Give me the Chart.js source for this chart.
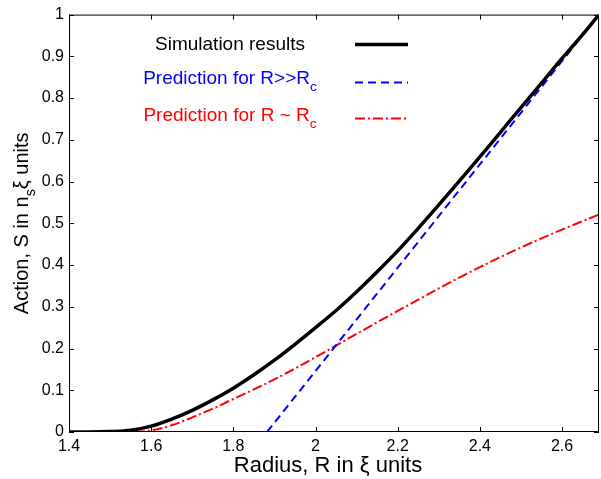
<!DOCTYPE html>
<html>
<head>
<meta charset="utf-8">
<script src="https://cdn.jsdelivr.net/npm/chart.js@4.4.1/dist/chart.umd.min.js"></script>
<style>
  html, body { margin: 0; padding: 0; background: #fff; }
  #chart { display: block; }
</style>
</head>
<body>
<canvas id="chart" width="601" height="479"></canvas>
<script>
// simulation results
const simRadius = [1.40, 1.45, 1.50, 1.55, 1.60, 1.65, 1.70, 1.75, 1.80, 1.85, 1.90, 1.95, 2.00,
                   2.05, 2.10, 2.15, 2.20, 2.25, 2.30, 2.35, 2.40, 2.45, 2.50, 2.55, 2.60, 2.65, 2.69];
const simAction = [0, 0, 0.001, 0.004, 0.014, 0.031, 0.052, 0.077, 0.105, 0.137, 0.172, 0.210, 0.250,
                   0.291, 0.336, 0.384, 0.434, 0.488, 0.544, 0.601, 0.659, 0.718, 0.777, 0.836, 0.895, 0.952, 1.000];

// prediction for R ~ Rc
const nearRadius = [1.56, 1.60, 1.65, 1.70, 1.75, 1.80, 1.85, 1.90, 1.95, 2.00, 2.05, 2.10, 2.15,
                    2.20, 2.25, 2.30, 2.35, 2.40, 2.45, 2.50, 2.55, 2.60, 2.65, 2.69];
const nearAction = [0, 0.004, 0.016, 0.035, 0.056, 0.079, 0.102, 0.126, 0.152, 0.179, 0.207, 0.235, 0.263,
                    0.290, 0.317, 0.344, 0.370, 0.395, 0.419, 0.442, 0.464, 0.485, 0.505, 0.521];

// prediction for R >> Rc (straight line)
const largeRadius = [1.882, 2.69];
const largeAction = [0, 1.0];

const xTicks = [1.4, 1.6, 1.8, 2.0, 2.2, 2.4, 2.6];
const yTicks = [0, 0.1, 0.2, 0.3, 0.4, 0.5, 0.6, 0.7, 0.8, 0.9, 1];

const FONT = "'Liberation Sans', Arial, Helvetica, sans-serif";

function points(xs, ys) {
    return xs.map((x, i) => ({ x: x, y: ys[i] }));
}

// draws text pieces, some of them as subscripts, starting at x
function drawRich(ctx, parts, x, y, size, color) {
    ctx.fillStyle = color;
    ctx.textBaseline = "middle";
    ctx.textAlign = "left";
    parts.forEach(p => {
        const s = p.sub ? size * 0.72 : size;
        ctx.font = s + "px " + FONT;
        ctx.fillText(p.t, x, p.sub ? y + size * 0.45 : y);
        x += ctx.measureText(p.t).width;
    });
}

function richWidth(ctx, parts, size) {
    let w = 0;
    parts.forEach(p => {
        ctx.font = (p.sub ? size * 0.72 : size) + "px " + FONT;
        w += ctx.measureText(p.t).width;
    });
    return w;
}

const legendItems = [
    { parts: [{ t: "Simulation results" }], color: "#000", width: 3.5, dash: [], textY: 30, lineY: 30 },
    { parts: [{ t: "Prediction for R>>R" }, { t: "c", sub: true }], color: "#0000ff", width: 2, dash: [8, 5], textY: 64, lineY: 68 },
    { parts: [{ t: "Prediction for R ~ R" }, { t: "c", sub: true }], color: "#ff0000", width: 2, dash: [10, 3, 2, 3], textY: 101, lineY: 104 }
];

const framePlugin = {
    id: "frame",
    afterDraw(chart) {
        const ctx = chart.ctx;
        const a = chart.chartArea;
        const xs = chart.scales.x;
        const ys = chart.scales.y;
        ctx.save();

        // box
        ctx.strokeStyle = "#000";
        ctx.lineWidth = 1;
        ctx.setLineDash([]);
        ctx.strokeRect(a.left + 0.5, a.top + 0.5, a.right - a.left - 1, a.bottom - a.top - 1);

        // inward ticks
        ctx.beginPath();
        xTicks.forEach(v => {
            const px = Math.round(xs.getPixelForValue(v)) + 0.5;
            ctx.moveTo(px, a.bottom);
            ctx.lineTo(px, a.bottom - 5);
            ctx.moveTo(px, a.top);
            ctx.lineTo(px, a.top + 5);
        });
        yTicks.forEach(v => {
            const py = Math.round(ys.getPixelForValue(v)) + 0.5;
            ctx.moveTo(a.left, py);
            ctx.lineTo(a.left + 5, py);
            ctx.moveTo(a.right, py);
            ctx.lineTo(a.right - 5, py);
        });
        ctx.stroke();

        // legend
        legendItems.forEach(item => {
            const w = richWidth(ctx, item.parts, 19);
            drawRich(ctx, item.parts, a.left + 161 - w / 2, a.top + item.textY, 19, item.color);
            ctx.strokeStyle = item.color;
            ctx.lineWidth = item.width;
            ctx.setLineDash(item.dash);
            ctx.beginPath();
            ctx.moveTo(a.left + 286, a.top + item.lineY);
            ctx.lineTo(a.left + 339, a.top + item.lineY);
            ctx.stroke();
        });
        ctx.setLineDash([]);

        // x axis title
        ctx.fillStyle = "#000";
        ctx.font = "22px " + FONT;
        ctx.textAlign = "center";
        ctx.textBaseline = "middle";
        ctx.fillText("Radius, R in \u03be units", (a.left + a.right) / 2 - 6, 466);

        // y axis title with subscript
        const yParts = [{ t: "Action, S in n" }, { t: "s", sub: true }, { t: "\u03be units" }];
        const tw = richWidth(ctx, yParts, 20);
        ctx.translate(22, (a.top + a.bottom) / 2);
        ctx.rotate(-Math.PI / 2);
        drawRich(ctx, yParts, -tw / 2, 0, 20, "#000");

        ctx.restore();
    }
};

new Chart(document.getElementById("chart"), {
    type: "line",
    data: {
        datasets: [
            {
                label: "Simulation results",
                data: points(simRadius, simAction),
                borderColor: "#000",
                borderWidth: 3.5,
                pointRadius: 0,
                cubicInterpolationMode: "monotone",
                fill: false
            },
            {
                label: "Prediction for R>>Rc",
                data: points(largeRadius, largeAction),
                borderColor: "#0000ff",
                borderWidth: 2,
                borderDash: [8, 5],
                pointRadius: 0,
                fill: false
            },
            {
                label: "Prediction for R ~ Rc",
                data: points(nearRadius, nearAction),
                borderColor: "#ff0000",
                borderWidth: 2,
                borderDash: [10, 3, 2, 3],
                pointRadius: 0,
                cubicInterpolationMode: "monotone",
                fill: false
            }
        ]
    },
    options: {
        responsive: false,
        animation: false,
        devicePixelRatio: 1,
        layout: {
            padding: { top: 13, right: 2, left: 0, bottom: 0 }
        },
        plugins: {
            legend: { display: false },
            tooltip: { enabled: false }
        },
        scales: {
            x: {
                type: "linear",
                min: 1.4,
                max: 2.69,
                afterBuildTicks: scale => { scale.ticks = xTicks.map(v => ({ value: v })); },
                afterFit: scale => { scale.height = 47; },
                grid: { display: false, drawTicks: false },
                border: { display: false },
                ticks: {
                    color: "#000",
                    padding: 5,
                    maxRotation: 0,
                    autoSkip: false,
                    font: { family: FONT, size: 16 },
                    callback: v => String(v)
                }
            },
            y: {
                type: "linear",
                min: 0,
                max: 1,
                afterBuildTicks: scale => { scale.ticks = yTicks.map(v => ({ value: v })); },
                afterFit: scale => { scale.width = 69; },
                grid: { display: false, drawTicks: false },
                border: { display: false },
                ticks: {
                    color: "#000",
                    padding: 5,
                    autoSkip: false,
                    font: { family: FONT, size: 16 },
                    callback: v => String(v)
                }
            }
        }
    },
    plugins: [framePlugin]
});
</script>
</body>
</html>
